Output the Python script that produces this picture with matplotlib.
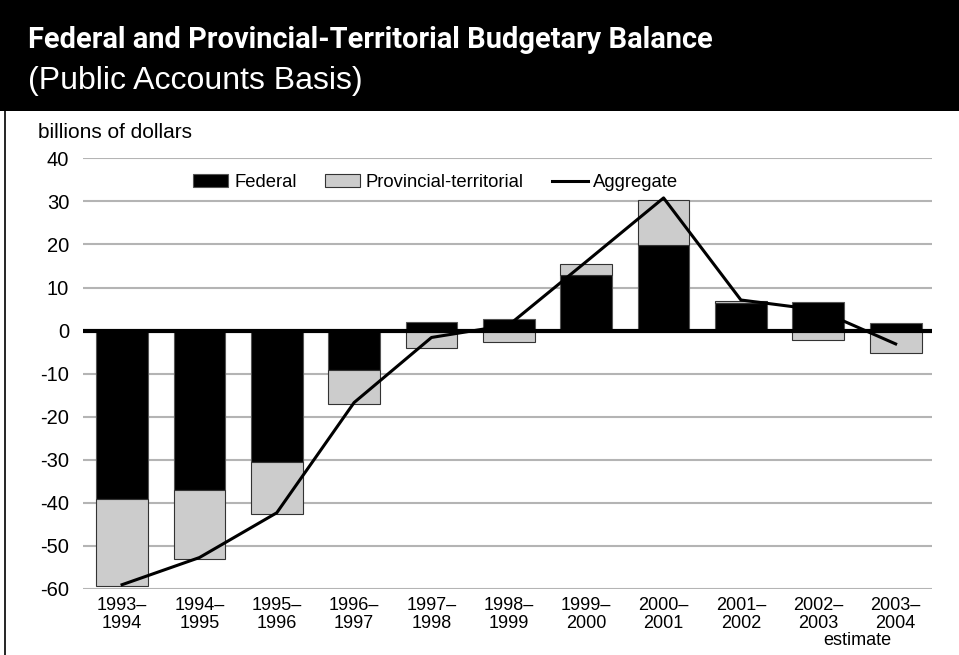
import matplotlib.pyplot as plt
from matplotlib.patches import Rectangle
from matplotlib.lines import Line2D

years = ["1993–\n1994", "1994–\n1995", "1995–\n1996", "1996–\n1997", "1997–\n1998",
         "1998–\n1999", "1999–\n2000", "2000–\n2001", "2001–\n2002", "2002–\n2003",
         "2003–\n2004"]
federal = [-39.0, -37.1, -30.4, -9.1, 1.9, 2.6, 12.9, 19.8, 6.5, 6.7, 1.7]
provincial = [-20.3, -15.9, -12.2, -8.0, -4.1, -2.7, 2.5, 10.6, 0.3, -2.2, -5.3]
aggregate = [-59.0, -52.7, -42.3, -16.7, -1.6, 1.3, 16.0, 30.8, 7.1, 4.8, -3.1]
y_ticks = [-60, -50, -40, -30, -20, -10, 0, 10, 20, 30, 40]


def main():
    plt.rcParams["font.family"] = ["Liberation Sans", "DejaVu Sans"]
    fig = plt.figure(figsize=(9.59, 6.55), dpi=100)

    # black header band and left frame line
    fig.patches.append(Rectangle((0, 1 - 111 / 655), 1, 111 / 655, transform=fig.transFigure,
                                 facecolor="black", edgecolor="none", zorder=0))
    fig.lines.append(Line2D([5 / 959, 5 / 959], [0, 1 - 111 / 655], transform=fig.transFigure,
                            color="black", lw=1.2))
    fig.text(28 / 959, 1 - 40 / 655, "Federal and Provincial-Territorial Budgetary Balance",
             color="white", fontsize=20.9, fontweight="bold", va="center", ha="left",
             family=["Roboto", "DejaVu Sans"])
    fig.text(28 / 959, 1 - 81 / 655, "(Public Accounts Basis)", color="white",
             fontsize=23, va="center", ha="left")
    fig.text(38 / 959, 1 - 132 / 655, "billions of dollars", fontsize=15, va="center", ha="left")

    ax = fig.add_axes([83 / 959, 1 - 589 / 655, 849 / 959, (589 - 158.3) / 655])
    x = list(range(len(years)))
    width = 0.67

    # stack provincial on top of federal when same sign, otherwise from zero
    prov_base = [f if (f > 0) == (p > 0) else 0 for f, p in zip(federal, provincial)]
    b1 = ax.bar(x, federal, width, color="black", edgecolor="#555555", lw=0.8,
                label="Federal", zorder=3)
    b2 = ax.bar(x, provincial, width, bottom=prov_base, color="#cccccc", edgecolor="#333333",
                lw=0.8, label="Provincial-territorial", zorder=3)
    l1, = ax.plot(x, aggregate, color="black", lw=2.2, label="Aggregate", zorder=4)
    ax.axhline(0, color="black", lw=3, zorder=5)

    ax.set_xlim(-0.505, 10.47)
    ax.set_ylim(-60, 40)
    ax.set_yticks(y_ticks)
    ax.set_yticklabels([str(v) for v in y_ticks], fontsize=14.5)
    ax.set_xticks(x)
    ax.set_xticklabels(years, fontsize=13, linespacing=1.05)
    ax.tick_params(axis="y", length=0, pad=10)
    ax.tick_params(axis="x", length=0, pad=6)
    ax.grid(axis="y", color="#b4b4b4", lw=1.5, zorder=0)
    for s in ax.spines.values():
        s.set_visible(False)
    ax.text(9.5, -70, "estimate", fontsize=13, ha="center", va="top")

    ax.legend([b1, b2, l1], ["Federal", "Provincial-territorial", "Aggregate"],
              ncol=3, loc="center left", bbox_to_anchor=(0.13, 0.943), frameon=False,
              fontsize=13.3, handlelength=1.9, handleheight=0.7, columnspacing=1.55,
              handletextpad=0.3, borderpad=0, borderaxespad=0)

    plt.savefig("out.png", dpi=100)


if __name__ == "__main__":
    main()
